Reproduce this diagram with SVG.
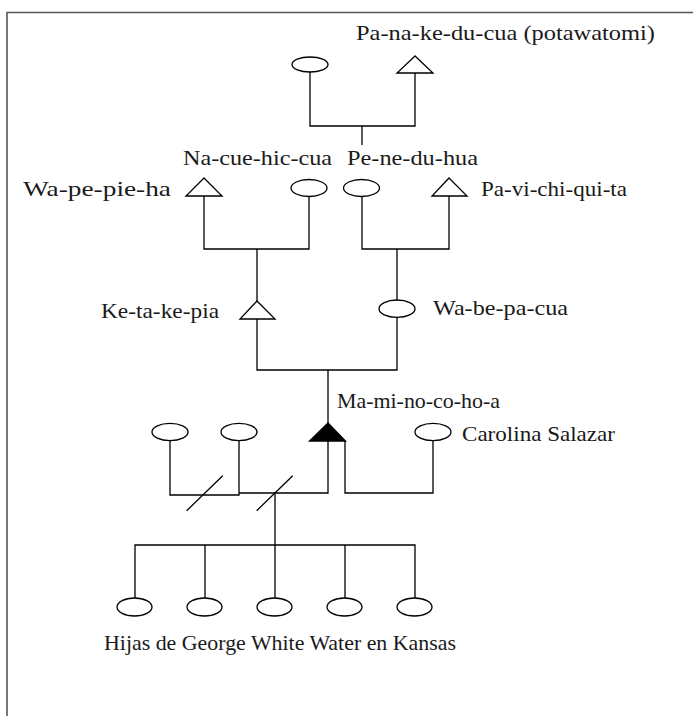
<svg xmlns="http://www.w3.org/2000/svg" width="693" height="716" viewBox="0 0 693 716">
<style>
.sh{fill:#fff;stroke:#000;stroke-width:1.3}
.fill{fill:#000;stroke:#000;stroke-width:1.3}
.ln{fill:none;stroke:#000;stroke-width:1.3}
text{font-family:"Liberation Serif","Times New Roman",serif;font-size:22px;fill:#1a1a1a}
</style>
<rect width="693" height="716" fill="#fff"/>
<path d="M7,716 V12.5 H693" fill="none" stroke="#555" stroke-width="1.6"/>
<g id="connectors" class="ln">
<path d="M310,72 V126 H415 V73 M362,126 V145"/>
<path d="M204,196 V249 H309 V196 M257,249 V301"/>
<path d="M362,196 V249 H449 V196 M397,249 V300"/>
<path d="M257,319 V370 H397 V317 M328,370 V423"/>
<path d="M170,441 V495 H239 V441 M239,493 H328 V441"/>
<path d="M345,441 V493 H433 V441"/>
<path d="M186.7,510.7 L222.7,475.7 M256.7,510.7 L292.7,475.7"/>
<path d="M275,493 V545 M135,598 V545 H415 V598 M205,545 V598 M275,545 V598 M345,545 V598"/>
</g>
<g id="n-panakeducua-wife"><ellipse class="sh" cx="310" cy="64.5" rx="18" ry="7.5"/></g>
<g id="n-panakeducua"><polygon class="sh" points="415,56 397,73 433,73"/><text x="356" y="40" textLength="299" lengthAdjust="spacingAndGlyphs">Pa-na-ke-du-cua (potawatomi)</text></g>
<g id="n-wapepieha"><polygon class="sh" points="204,178 186,196 222,196"/><text x="23" y="196" textLength="148" lengthAdjust="spacingAndGlyphs">Wa-pe-pie-ha</text></g>
<g id="n-nacuehiccua"><ellipse class="sh" cx="309" cy="188" rx="18" ry="8.5"/><text x="183" y="165" textLength="149" lengthAdjust="spacingAndGlyphs">Na-cue-hic-cua</text></g>
<g id="n-peneduhua"><ellipse class="sh" cx="361.5" cy="188" rx="18" ry="8.5"/><text x="347" y="165" textLength="131" lengthAdjust="spacingAndGlyphs">Pe-ne-du-hua</text></g>
<g id="n-pavichiquita"><polygon class="sh" points="449,178 432,196 467,196"/><text x="481" y="196" textLength="146" lengthAdjust="spacingAndGlyphs">Pa-vi-chi-qui-ta</text></g>
<g id="n-ketakepia"><polygon class="sh" points="257,301 240,319 275,319"/><text x="101" y="318" textLength="118" lengthAdjust="spacingAndGlyphs">Ke-ta-ke-pia</text></g>
<g id="n-wabepacua"><ellipse class="sh" cx="397" cy="308.7" rx="18" ry="8.7"/><text x="433" y="315" textLength="135" lengthAdjust="spacingAndGlyphs">Wa-be-pa-cua</text></g>
<g id="n-maminocohoa"><polygon class="fill" points="328,423 309.5,441 345.5,441"/><text x="337" y="408" textLength="163" lengthAdjust="spacingAndGlyphs">Ma-mi-no-co-ho-a</text></g>
<g id="n-wife1"><ellipse class="sh" cx="170" cy="432" rx="18" ry="8.7"/></g>
<g id="n-wife2"><ellipse class="sh" cx="239" cy="432" rx="18" ry="8.7"/></g>
<g id="n-carolina"><ellipse class="sh" cx="433" cy="432" rx="18" ry="8.7"/><text x="462" y="441" textLength="153" lengthAdjust="spacingAndGlyphs">Carolina Salazar</text></g>
<g id="n-daughters">
<ellipse class="sh" cx="134.5" cy="607" rx="17.5" ry="9"/>
<ellipse class="sh" cx="204.5" cy="607" rx="17.5" ry="9"/>
<ellipse class="sh" cx="274.5" cy="607" rx="17.5" ry="9"/>
<ellipse class="sh" cx="344.5" cy="607" rx="17.5" ry="9"/>
<ellipse class="sh" cx="414.5" cy="607" rx="17.5" ry="9"/>
<text x="104" y="650" textLength="352" lengthAdjust="spacingAndGlyphs">Hijas de George White Water en Kansas</text>
</g>
</svg>
